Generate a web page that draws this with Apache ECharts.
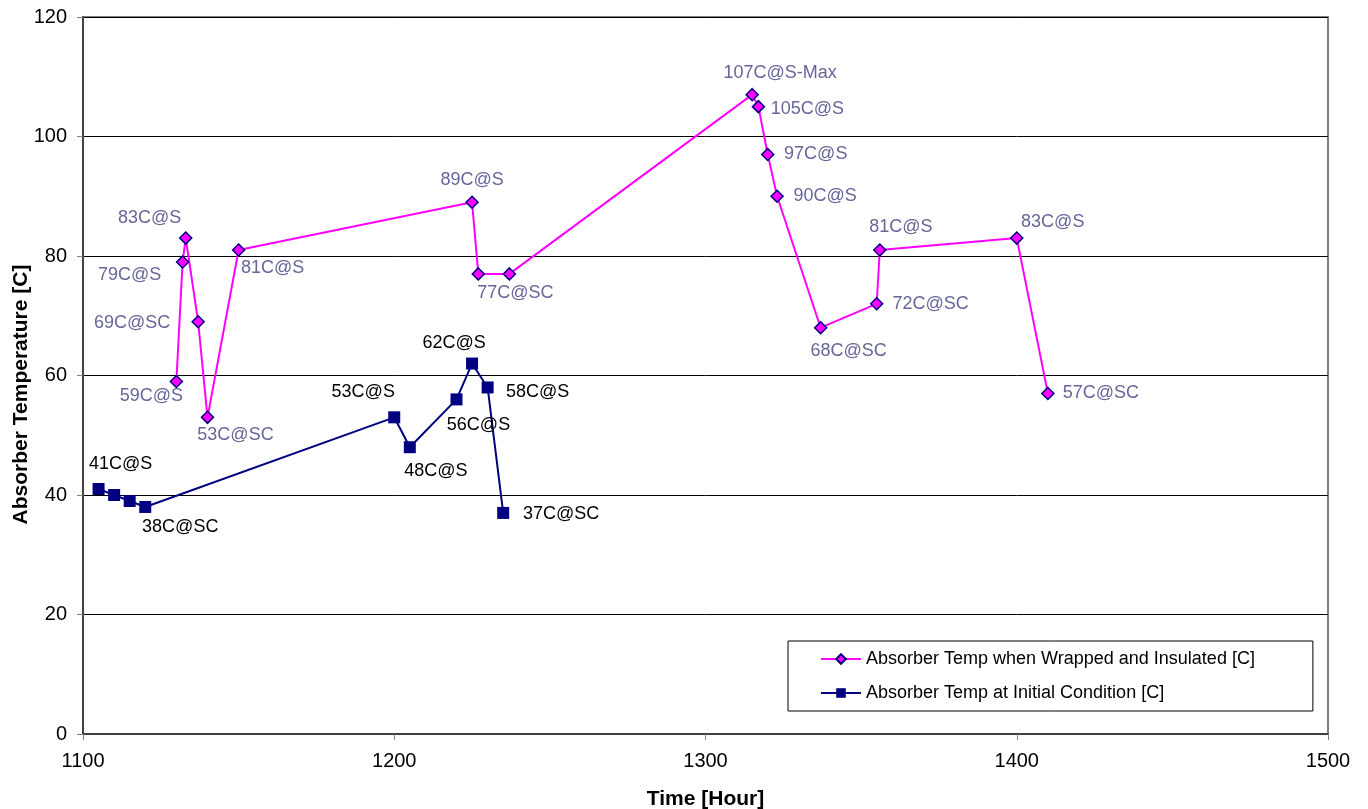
<!DOCTYPE html>
<html>
<head>
<meta charset="utf-8">
<script src="https://cdn.jsdelivr.net/npm/echarts@6/dist/echarts.min.js"></script>
<style>
  html, body { margin: 0; padding: 0; background: #fff; }
  #chart { width: 1368px; height: 809px; }
</style>
</head>
<body>
<div id="chart"></div>
<script>
// Wrapped and insulated absorber: hour, temperature and label suffix
const wrappedHours = [1130, 1132, 1133, 1137, 1140, 1150, 1225, 1227, 1237, 1315, 1317, 1320, 1323, 1337, 1355, 1356, 1400, 1410];
const wrappedTemps = [59, 79, 83, 69, 53, 81, 89, 77, 77, 107, 105, 97, 90, 68, 72, 81, 83, 57];
const wrappedTags  = ['S', 'S', 'S', 'SC', 'SC', 'S', 'S', '', 'SC', 'S-Max', 'S', 'S', 'S', 'SC', 'SC', 'S', 'S', 'SC'];

// Absorber at initial condition
const initialHours = [1105, 1110, 1115, 1120, 1200, 1205, 1220, 1225, 1230, 1235];
const initialTemps = [41, 40, 39, 38, 53, 48, 56, 62, 58, 37];
const initialTags  = ['S', '', '', 'SC', 'S', 'S', 'S', 'S', 'S', 'SC'];

const xTicks = { min: 1100, max: 1500, step: 100 };
const yTicks = { min: 0, max: 120, step: 20 };

const seriesNames = [
  'Absorber Temp when Wrapped and Insulated [C]',
  'Absorber Temp at Initial Condition [C]'
];

// Label placement (pixel offset of label centre from its point)
const wrappedLabelOffsets = [
  [-25, 15], [-53, 13], [-36, -20], [-66, 1], [28, 18], [34, 18], [0, -22], null, [6, 19],
  [28, -22], [49, 2], [48, 0], [48, 0], [28, 23], [54, 0], [21, -23], [36, -16], [53, 0]
];
const initialLabelOffsets = [
  [22, -25], null, null, [35, 20], [-31, -25], [26, 24], [22, 26], [-18, -21], [50, 5], [58, 1]
];

const FONT = 'Liberation Sans, Arial, sans-serif';

function buildPoints(hours, temps, tags, offsets, color) {
  return hours.map((h, i) => {
    const item = { value: [h, temps[i]] };
    if (tags[i]) {
      item.label = {
        show: true,
        position: 'inside',
        offset: offsets[i],
        align: 'center',
        verticalAlign: 'middle',
        formatter: temps[i] + 'C@' + tags[i],
        color: color,
        fontFamily: FONT,
        fontSize: 18
      };
    }
    return item;
  });
}

const chart = echarts.init(document.getElementById('chart'), null, { renderer: 'canvas' });

chart.setOption({
  animation: false,
  backgroundColor: '#ffffff',
  grid: {
    left: 83, right: 40, top: 17, bottom: 75,
    containLabel: false,
    outerBoundsMode: 'none',
    show: true, borderColor: '#808080', borderWidth: 2, backgroundColor: 'transparent'
  },
  xAxis: {
    type: 'value',
    min: xTicks.min, max: xTicks.max, interval: xTicks.step,
    name: 'Time [Hour]',
    nameLocation: 'middle',
    nameGap: 55,
    nameTextStyle: { fontFamily: FONT, fontSize: 21, fontWeight: 'bold', color: '#000' },
    axisLine: { show: true, onZero: false, lineStyle: { color: '#404040', width: 2 } },
    axisTick: { show: true, length: 6, lineStyle: { color: '#808080', width: 1 } },
    axisLabel: { fontFamily: FONT, fontSize: 20, color: '#000', margin: 17, formatter: v => String(v) },
    splitLine: { show: false }
  },
  yAxis: {
    type: 'value',
    min: yTicks.min, max: yTicks.max, interval: yTicks.step,
    name: 'Absorber Temperature [C]',
    nameLocation: 'middle',
    nameGap: 51,
    nameMoveOverlap: false,
    nameRotate: 90,
    nameTextStyle: { fontFamily: FONT, fontSize: 21, fontWeight: 'bold', color: '#000', padding: [0, 38, 0, 0] },
    axisLine: { show: true, lineStyle: { color: '#404040', width: 2 } },
    axisTick: { show: true, length: 6, lineStyle: { color: '#808080', width: 1 } },
    axisLabel: { fontFamily: FONT, fontSize: 20, color: '#000', margin: 16, formatter: v => String(v) },
    splitLine: { show: true, lineStyle: { color: '#000', width: 1 } }
  },
  legend: {
    orient: 'vertical',
    left: 788,
    top: 641,
    padding: [9, 58, 9, 32],
    itemGap: 16,
    itemWidth: 40,
    itemHeight: 12,
    borderColor: '#000',
    borderWidth: 1,
    backgroundColor: '#fff',
    textStyle: { fontFamily: FONT, fontSize: 18, color: '#000' },
    data: seriesNames
  },
  series: [
    {
      name: seriesNames[0],
      type: 'line',
      data: buildPoints(wrappedHours, wrappedTemps, wrappedTags, wrappedLabelOffsets, '#666699'),
      symbol: 'diamond',
      symbolSize: 12,
      showAllSymbol: true,
      lineStyle: { color: '#ff00ff', width: 2 },
      itemStyle: { color: '#ff00ff', borderColor: '#000080', borderWidth: 1.5 },
      z: 3
    },
    {
      name: seriesNames[1],
      type: 'line',
      data: buildPoints(initialHours, initialTemps, initialTags, initialLabelOffsets, '#000'),
      symbol: 'rect',
      symbolSize: 12,
      showAllSymbol: true,
      lineStyle: { color: '#000080', width: 2 },
      itemStyle: { color: '#000080', borderColor: '#000080', borderWidth: 0 },
      z: 3
    }
  ]
});
</script>
</body>
</html>
